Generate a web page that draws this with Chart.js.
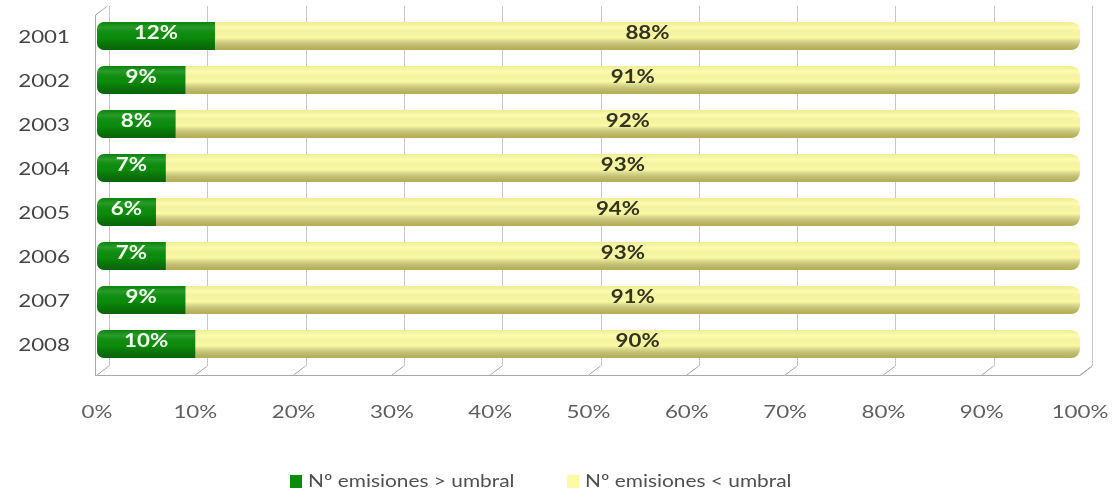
<!DOCTYPE html>
<html>
<head>
<meta charset="utf-8">
<script src="https://cdn.jsdelivr.net/npm/chart.js@4"></script>
<style>
  html, body { margin: 0; padding: 0; background: #fff; }
  #wrap { width: 1115px; height: 495px; }
</style>
</head>
<body>
<div id="wrap"><canvas id="chart" width="1115" height="495"></canvas></div>
<script>
const years = ['2001', '2002', '2003', '2004', '2005', '2006', '2007', '2008'];
const overThreshold = [12, 9, 8, 7, 6, 7, 9, 10];
const underThreshold = [88, 91, 92, 93, 94, 93, 91, 90];
const xTicks = [0, 10, 20, 30, 40, 50, 60, 70, 80, 90, 100];
const seriesNames = ['Nº emisiones > umbral', 'Nº emisiones < umbral'];

const FONT = 'Lato, "Open Sans", sans-serif';
const DEPTH = 12;

// text helper: draws with a horizontal stretch around the anchor point
// (the original text is drawn wide)
function wideText(ctx, text, x, y, align, font, color, stretch = 1.24) {
  ctx.save();
  ctx.font = font;
  ctx.fillStyle = color;
  ctx.textBaseline = 'middle';
  ctx.textAlign = align;
  ctx.translate(x, y);
  ctx.scale(stretch, 1);
  ctx.fillText(text, 0, 0);
  ctx.restore();
}

// back-wall grid, shifted a little to fake the 3D depth
const wallGrid = {
  id: 'wallGrid',
  beforeDatasetsDraw(chart) {
    const { ctx, chartArea, scales } = chart;
    ctx.save();
    ctx.strokeStyle = '#c8c8c8';
    ctx.lineWidth = 1;
    xTicks.forEach(v => {
      const x = Math.round(scales.x.getPixelForValue(v)) + DEPTH + 0.5;
      ctx.beginPath();
      ctx.moveTo(x, chartArea.top - 8);
      ctx.lineTo(x, chartArea.bottom);
      ctx.stroke();
    });
    // floor
    ctx.strokeStyle = '#a8a8a8';
    ctx.beginPath();
    ctx.moveTo(chartArea.left - 2, chartArea.bottom + 9.5);
    ctx.lineTo(chartArea.right, chartArea.bottom + 9.5);
    ctx.lineTo(chartArea.right + DEPTH, chartArea.bottom + 0.5);
    ctx.stroke();
    xTicks.forEach(v => {
      const x = scales.x.getPixelForValue(v);
      ctx.beginPath();
      ctx.moveTo(x, chartArea.bottom + 9);
      ctx.lineTo(x + DEPTH, chartArea.bottom);
      ctx.stroke();
    });
    // left wall
    ctx.beginPath();
    ctx.moveTo(chartArea.left - 1.5, chartArea.bottom + 9);
    ctx.lineTo(chartArea.left - 1.5, chartArea.top + 1);
    ctx.lineTo(chartArea.left - 1.5 + DEPTH, chartArea.top - 8);
    ctx.stroke();
    ctx.restore();
  }
};

// cylinder shading + value labels
const barLook = {
  id: 'barLook',
  afterDatasetsDraw(chart) {
    const { ctx } = chart;
    ctx.save();
    chart.data.datasets.forEach((ds, di) => {
      const meta = chart.getDatasetMeta(di);
      meta.data.forEach((bar, i) => {
        const top = bar.y - bar.height / 2;
        const g = ctx.createLinearGradient(0, top, 0, top + bar.height);
        g.addColorStop(0, di === 0 ? 'rgba(0,60,0,0.15)' : 'rgba(150,140,40,0.15)');
        g.addColorStop(0.2, 'rgba(255,255,255,0.12)');
        g.addColorStop(0.55, 'rgba(0,0,0,0.0)');
        g.addColorStop(1, di === 0 ? 'rgba(0,40,0,0.4)' : 'rgba(120,110,20,0.55)');
        ctx.fillStyle = g;
        const left = Math.min(bar.x, bar.base);
        const w = Math.abs(bar.x - bar.base);
        ctx.beginPath();
        if (ctx.roundRect) {
          ctx.roundRect(left, top, w, bar.height, di === 0 ? [7, 0, 0, 7] : [0, 9, 9, 0]);
        } else {
          ctx.rect(left, top, w, bar.height);
        }
        ctx.fill();

        wideText(ctx, ds.data[i] + '%', (bar.x + bar.base) / 2, bar.y - 3,
          'center', 'bold 18px ' + FONT, di === 0 ? '#f4fff0' : '#33331f');
      });
    });
    ctx.restore();
  }
};

// axis tick labels and legend, drawn from the scales with the wide text
const wideLabels = {
  id: 'wideLabels',
  afterDraw(chart) {
    const { ctx, chartArea, scales } = chart;
    xTicks.forEach(v => {
      wideText(ctx, v + '%', scales.x.getPixelForValue(v), chartArea.bottom + 46,
        'center', '18px ' + FONT, '#5e5e5e');
    });
    chart.data.labels.forEach((lab, i) => {
      wideText(ctx, lab, 70, scales.y.getPixelForValue(i) + 1,
        'right', '18px ' + FONT, '#454545');
    });
    const starts = [290, 567];
    chart.data.datasets.forEach((ds, di) => {
      const x = starts[di];
      const y = 481;
      ctx.fillStyle = ds.backgroundColor;
      ctx.fillRect(x, y - 6, 12, 13);
      wideText(ctx, ds.label, x + 18, y, 'left', '18px ' + FONT, '#505050', 1.16);
    });
  }
};

new Chart(document.getElementById('chart'), {
  type: 'bar',
  data: {
    labels: years,
    datasets: [
      {
        label: seriesNames[0],
        data: overThreshold,
        backgroundColor: '#0b8d0b',
        borderRadius: { topLeft: 7, bottomLeft: 7, topRight: 0, bottomRight: 0 },
        borderSkipped: false,
        barPercentage: 0.64,
        categoryPercentage: 1
      },
      {
        label: seriesNames[1],
        data: underThreshold,
        backgroundColor: '#fcfba4',
        borderRadius: { topLeft: 0, bottomLeft: 0, topRight: 9, bottomRight: 9 },
        borderSkipped: false,
        barPercentage: 0.64,
        categoryPercentage: 1
      }
    ]
  },
  options: {
    indexAxis: 'y',
    responsive: false,
    animation: false,
    layout: { padding: { top: 14, right: 35, left: 0, bottom: 70 } },
    scales: {
      x: {
        stacked: true,
        min: 0,
        max: 100,
        grid: { display: false },
        border: { display: false },
        afterBuildTicks: axis => { axis.ticks = xTicks.map(v => ({ value: v })); },
        afterFit: axis => {
          axis.height = 59;
          axis.paddingLeft = 0;
          axis.paddingRight = 0;
        },
        ticks: { display: false }
      },
      y: {
        stacked: true,
        grid: { display: false },
        border: { display: false },
        afterFit: axis => {
          axis.width = 97;
          axis.paddingTop = 0;
          axis.paddingBottom = 0;
        },
        ticks: { display: false }
      }
    },
    plugins: {
      legend: { display: false },
      tooltip: { enabled: false }
    }
  },
  plugins: [wallGrid, barLook, wideLabels]
});
</script>
</body>
</html>
